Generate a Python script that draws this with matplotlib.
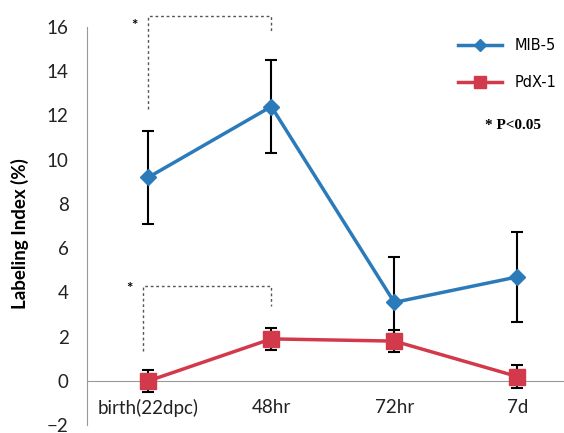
import matplotlib.pyplot as plt
from matplotlib.lines import Line2D

# datos
categorias = ['birth(22dpc)', '48hr', '72hr', '7d']
mib5 = [9.2, 12.4, 3.55, 4.7]
mib5_err = [2.1, 2.1, 2.05, 2.05]
pdx1 = [0.0, 1.9, 1.8, 0.2]
pdx1_err = [0.5, 0.5, 0.5, 0.5]

plt.rcParams['font.family'] = ['Lato', 'DejaVu Sans']

fig = plt.figure(figsize=(5.64, 4.33), dpi=100)
ax = fig.add_axes([0.154, 0.018, 0.846, 0.920])

x = list(range(len(categorias)))
azul = '#2b7bba'
rojo = '#d23a4c'

ax.errorbar(x, mib5, yerr=mib5_err, fmt='none', ecolor='black', elinewidth=1.5, capsize=4, capthick=1.5, zorder=2)
ax.errorbar(x, pdx1, yerr=pdx1_err, fmt='none', ecolor='black', elinewidth=1.5, capsize=4, capthick=1.5, zorder=2)
ax.plot(x, mib5, color=azul, lw=2.5, marker='D', ms=8, zorder=3)
ax.plot(x, pdx1, color=rojo, lw=2.5, marker='s', ms=11, zorder=3)

# corchetes de significancia
ax.plot([0, 0, 1, 1], [12.3, 16.5, 16.5, 15.8], ls=(0, (2, 2)), color='#555555', lw=1, clip_on=False)
ax.text(-0.11, 16.05, '*', ha='center', va='center', fontsize=11, fontweight='bold')
ax.plot([-0.04, -0.04, 1, 1], [1.35, 4.3, 4.3, 3.4], ls=(0, (2, 2)), color='#555555', lw=1, clip_on=False)
ax.text(-0.15, 4.15, '*', ha='center', va='center', fontsize=11, fontweight='bold')

ax.set_xlim(-0.5, 3.38)
ax.set_ylim(-2, 16)
ax.set_yticks(range(-2, 17, 2))
ax.set_xticks(x)
ax.set_xticklabels(categorias)

ax.spines['top'].set_visible(False)
ax.spines['right'].set_visible(False)
ax.spines['left'].set_color('#999999')
ax.spines['bottom'].set_position(('data', 0))
ax.spines['bottom'].set_color('#999999')
ax.tick_params(axis='both', length=0, labelsize=13.5, colors='#222222')
ax.tick_params(axis='y', pad=13)
ax.tick_params(axis='x', pad=13)

fig.text(0.036, 0.46, 'Labeling Index (%)', rotation=90, ha='center', va='center', fontsize=13.5, fontweight='bold')

# leyenda
handles = [Line2D([], [], color=azul, lw=2.5, marker='D', ms=6),
           Line2D([], [], color=rojo, lw=2.5, marker='s', ms=9)]
fig.legend(handles, ['MIB-5', 'PdX-1'], loc='upper left', bbox_to_anchor=(458 / 564, 1 - 38 / 433),
           frameon=False, prop={'family': 'DejaVu Sans', 'size': 10.5}, handlelength=3.0,
           handletextpad=0.9, labelspacing=1.5, borderpad=0, borderaxespad=0)
fig.text(0.909, 0.71, '* P<0.05', ha='center', va='center', fontsize=11, fontweight='bold', family='Liberation Serif')

plt.savefig('out.png', dpi=100)
